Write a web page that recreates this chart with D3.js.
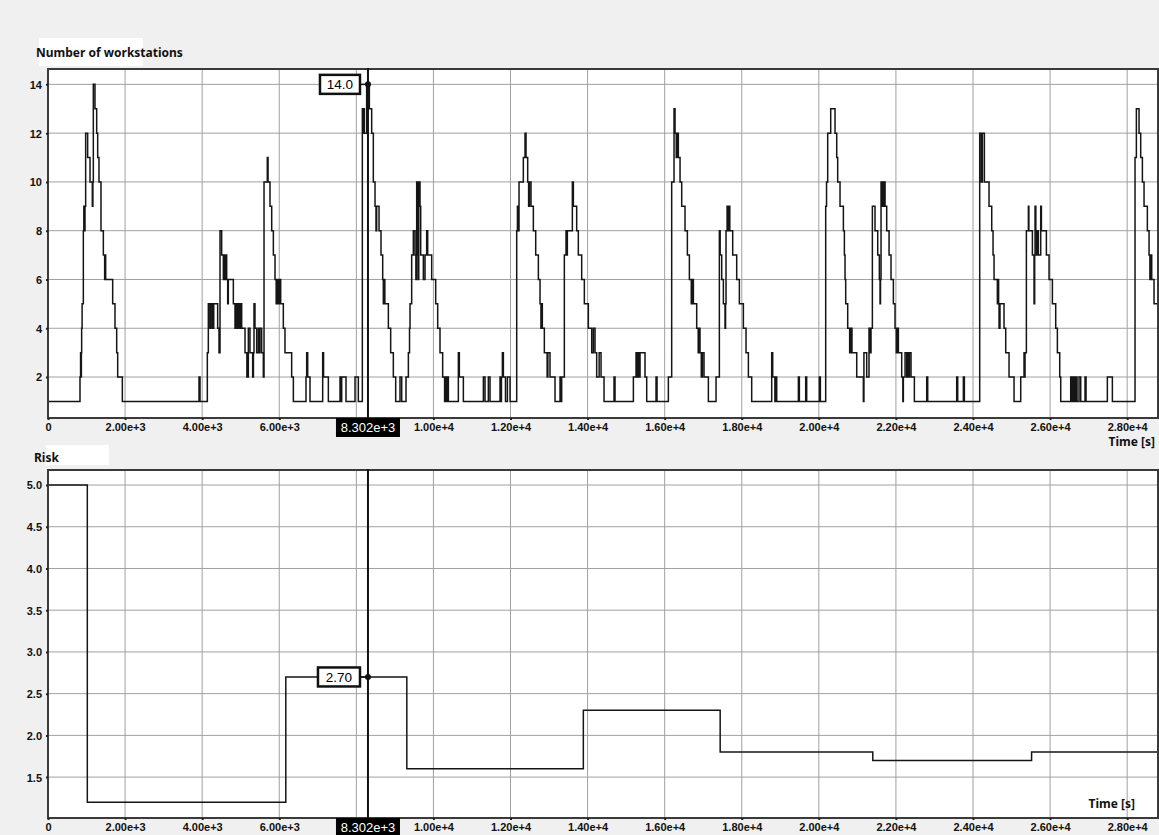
<!DOCTYPE html>
<html>
<head>
<meta charset="utf-8">
<script src="https://cdn.jsdelivr.net/npm/d3@7"></script>
<style>
  body { margin: 0; background: #f0f0f0; }
  svg { display: block; }
  .tick text { font-family: "Liberation Sans", Arial, sans-serif; font-weight: bold; font-size: 11px; fill: #111; }
  .title { font-family: "Noto Sans", "Open Sans", sans-serif; font-weight: bold; font-size: 12px; fill: #111; }
</style>
</head>
<body>
<div id="chart"></div>
<script>
// number of workstations (step after)
const wsTime = [0,830,845,858,866,873,885,917,930,945,960,977,1029,1090,1150,1165,1176,1219,1263,1289,1323,1375,1436,1470,1485,1496,1678,1738,1782,1808,1929,
  3918,3944,4134,4160,4200,4230,4270,4300,4402,4437,4463,4506,4550,4570,4600,4620,4636,4662,4679,4809,4852,4880,4910,4940,4970,5000,5025,
  5112,5160,5198,5241,5310,5330,5345,5370,5414,5458,5480,5500,5544,5587,5605,5690,5710,5760,5804,5847,5890,5920,5950,5980,6000,6037,6106,6149,6322,6366,
  6694,6712,6738,6798,7127,7150,7274,7577,7605,7620,7732,7966,8052,8156,8185,8200,8208,8268,8338,8398,8441,8485,8510,8528,8589,8640,8684,8700,8718,8740,
  8831,8891,8960,9021,9133,9177,9289,9350,9380,9393,9436,9479,9522,9545,9566,9590,9609,9620,9652,9670,9739,9782,9825,9851,9955,10059,10111,10171,10240,
  10290,10310,10340,10360,10388,10647,10673,10777,11296,11339,11425,11469,11728,11750,11765,11789,11815,11870,11920,11988,
  12161,12180,12195,12221,12333,12377,12403,12446,12470,12490,12532,12593,12654,12723,12766,12790,12805,12826,12878,12950,12970,13025,13155,13285,13300,13328,
  13397,13441,13460,13475,13605,13631,13717,13760,13847,13916,14020,14107,14150,14193,14236,14300,14349,14427,14686,14712,
  15188,15257,15290,15310,15340,15361,15490,15534,15776,15802,16096,16182,16243,16269,16300,16320,16355,16399,16442,16528,16589,16641,16690,16710,16745,
  16831,16870,16892,16917,16950,16978,17021,17134,17333,17419,17440,17480,17523,17566,17580,17592,17620,17640,17670,17690,17765,17869,17938,18042,18111,18172,18258,
  18777,18803,18860,18880,18907,19469,19495,19659,19685,20014,20040,20178,20200,20230,20308,20420,20464,20489,20550,20637,20663,20680,20697,20749,20800,20830,20860,
  20983,21155,21170,21242,21302,21330,21354,21389,21458,21528,21570,21588,21600,21614,21650,21680,21718,21761,21822,21873,21934,21977,22010,22030,22064,
  22150,22180,22193,22237,22280,22300,22330,22350,22392,22479,22799,22825,23577,23603,23750,23776,
  24174,24215,24243,24295,24416,24486,24520,24546,24632,24650,24665,24676,24700,24805,24849,24935,25065,25238,25324,25340,25350,
  25385,25437,25450,25541,25584,25600,25610,25630,25650,25670,25696,25757,25775,25904,25973,26060,26146,26189,26250,26276,
  26535,26550,26578,26600,26622,26640,26665,26700,26751,26795,26907,26933,27486,27616,28204,28239,28308,28351,28395,28438,28524,28568,28590,28610,28637,28697,28800];
const wsCount = [1,2,3,2,3,4,5,8,9,8,9,12,11,10,9,10,14,13,12,11,10,8,7,6,7,6,5,4,3,2,1,
  2,1,3,5,4,5,4,5,4,3,8,7,6,7,6,7,6,5,6,5,4,5,4,5,4,5,4,
  3,2,4,3,2,3,5,4,3,4,3,4,3,2,10,11,10,9,8,7,6,5,6,5,6,5,4,3,2,1,
  2,3,2,1,3,2,1,2,1,2,1,2,1,13,12,13,12,14,13,12,10,9,8,9,8,7,6,5,6,5,
  4,3,2,1,2,1,2,3,4,5,7,8,7,6,10,7,6,10,9,7,6,7,8,7,6,5,4,3,2,
  1,2,1,2,1,3,2,1,2,1,2,1,2,1,2,3,2,1,2,1,
  8,9,8,10,11,12,11,10,9,10,9,8,7,6,5,4,5,4,3,2,3,2,1,2,1,2,
  7,8,7,8,10,9,8,7,6,5,4,3,4,3,2,3,2,1,2,1,
  2,3,2,3,2,3,2,1,2,1,2,10,13,12,11,12,11,10,9,8,7,6,5,6,5,
  4,3,4,3,2,3,2,1,2,8,7,6,5,4,5,8,9,8,9,8,7,6,5,4,3,2,1,
  3,2,1,2,1,2,1,2,1,2,1,9,10,12,13,12,11,10,9,8,7,6,5,4,3,4,3,
  2,1,3,2,4,3,4,9,8,7,6,5,6,10,9,10,9,8,7,6,5,4,3,4,3,
  2,1,2,3,2,3,2,3,2,1,2,1,2,1,2,1,
  12,10,12,10,9,8,7,6,5,6,5,4,5,4,3,2,1,2,3,2,3,
  8,9,8,7,5,7,9,8,7,8,7,9,8,7,6,5,4,3,2,1,
  2,1,2,1,2,1,2,1,2,1,2,1,2,1,11,13,12,11,10,9,8,7,6,7,6,5,5];

// risk (step after)
const riskTime = [0, 1020, 6170, 9310, 13890, 17440, 21400, 25520, 28800];
const riskValue = [5.0, 1.2, 2.7, 1.6, 2.3, 1.8, 1.7, 1.8, 1.8];

const xTicks = d3.range(0, 28001, 2000);
const wsTicks = [2, 4, 6, 8, 10, 12, 14];
const riskTicks = [1.5, 2.0, 2.5, 3.0, 3.5, 4.0, 4.5, 5.0];
const cursorTime = 8302;

const W = 1159, H = 835;
const left = 48, right = 1158;

const svg = d3.select("#chart").append("svg")
  .attr("width", W).attr("height", H);

svg.append("rect").attr("width", W).attr("height", H).attr("fill", "#f0f0f0");

const x = d3.scaleLinear().domain([0, 28800]).range([left, right]);
const xFmt = v => v === 0 ? "0" : d3.format(".2e")(v);

function panel(opts) {
  const y = d3.scaleLinear().domain(opts.domain).range([opts.bottom, opts.top]);
  const g = svg.append("g");
  const id = "clip" + opts.name;

  svg.append("clipPath").attr("id", id)
    .append("rect").attr("x", left).attr("y", opts.top).attr("width", right - left).attr("height", opts.bottom - opts.top);

  g.append("rect")
    .attr("x", left).attr("y", opts.top)
    .attr("width", right - left).attr("height", opts.bottom - opts.top)
    .attr("fill", "#fff");

  // grid
  g.append("g").selectAll("line").data(xTicks.filter(d => d > 0)).join("line")
    .attr("x1", d => x(d)).attr("x2", d => x(d))
    .attr("y1", opts.top).attr("y2", opts.bottom)
    .attr("stroke", "#a0a0a0").attr("stroke-width", 1);
  g.append("g").selectAll("line").data(opts.yTicks).join("line")
    .attr("x1", left).attr("x2", right)
    .attr("y1", d => y(d)).attr("y2", d => y(d))
    .attr("stroke", "#a0a0a0").attr("stroke-width", 1);

  // data line
  const line = d3.line()
    .x(d => x(d[0])).y(d => y(d[1]))
    .curve(d3.curveStepAfter);
  g.append("path")
    .datum(d3.zip(opts.t, opts.v))
    .attr("clip-path", `url(#${id})`)
    .attr("d", line)
    .attr("fill", "none")
    .attr("stroke", "#151515")
    .attr("stroke-width", 1.5);

  // frame
  g.append("rect")
    .attr("x", left).attr("y", opts.top)
    .attr("width", right - left).attr("height", opts.bottom - opts.top)
    .attr("fill", "none").attr("stroke", "#3a3a3a").attr("stroke-width", 2);

  // axes; the label under the cursor box is hidden like in the original
  const cx = x(cursorTime);
  const ax = g.append("g")
    .attr("transform", `translate(0,${opts.bottom})`)
    .call(d3.axisBottom(x).tickValues(xTicks).tickFormat(xFmt).tickSize(2).tickPadding(3));
  ax.select(".domain").remove();
  ax.selectAll(".tick line").attr("stroke", "#222").attr("stroke-width", 2);
  ax.selectAll(".tick text").filter(d => Math.abs(x(d) - cx) < 40).remove();

  const ay = g.append("g")
    .attr("transform", `translate(${left},0)`)
    .call(d3.axisLeft(y).tickValues(opts.yTicks).tickFormat(opts.yFmt).tickSize(2).tickPadding(4));
  ay.select(".domain").remove();
  ay.selectAll(".tick line").attr("stroke", "#222").attr("stroke-width", 2);
  ay.selectAll(".tick text").attr("dy", "0.36em");

  // title
  g.append("rect").attr("x", opts.titleBox[0]).attr("y", opts.titleBox[1])
    .attr("width", opts.titleBox[2]).attr("height", opts.titleBox[3]).attr("fill", "#fff");
  g.append("text").attr("class", "title")
    .attr("x", opts.titleX).attr("y", opts.titleY).text(opts.title);

  g.append("text").attr("class", "title")
    .attr("x", opts.timeX).attr("y", opts.timeY)
    .attr("text-anchor", "end").text("Time [s]");

  // cursor
  const i = d3.bisectRight(opts.t, cursorTime) - 1;
  const val = opts.v[i];
  const cy = y(val);
  g.append("line").attr("x1", cx).attr("x2", cx)
    .attr("y1", opts.top - 1).attr("y2", opts.bottom)
    .attr("stroke", "#111").attr("stroke-width", 2);
  g.append("line").attr("x1", cx - 8).attr("x2", cx)
    .attr("y1", cy).attr("y2", cy)
    .attr("stroke", "#111").attr("stroke-width", 1.5);
  g.append("circle").attr("cx", cx).attr("cy", cy).attr("r", 3).attr("fill", "#111");
  g.append("rect")
    .attr("x", cx - 8 - opts.boxW).attr("y", cy - 9.5)
    .attr("width", opts.boxW).attr("height", 19)
    .attr("fill", "#fff").attr("stroke", "#111").attr("stroke-width", 2.5);
  g.append("text")
    .attr("x", cx - 8 - opts.boxW / 2).attr("y", cy + 5)
    .attr("text-anchor", "middle")
    .style("font-family", "Liberation Sans, Arial, sans-serif")
    .style("font-size", "13.5px")
    .text(d3.format(opts.valFmt)(val));

  g.append("rect")
    .attr("x", cx - 32).attr("y", opts.bottom)
    .attr("width", 64).attr("height", 19)
    .attr("fill", "#000");
  g.append("text")
    .attr("x", cx).attr("y", opts.bottom + 14)
    .attr("text-anchor", "middle").attr("fill", "#fff")
    .style("font-family", "Liberation Sans, Arial, sans-serif")
    .style("font-size", "13px")
    .text(d3.format(".3e")(cursorTime));
}

panel({
  name: "ws", top: 69, bottom: 418, domain: [0.32, 14.63],
  t: wsTime, v: wsCount, yTicks: wsTicks, yFmt: d3.format("d"),
  title: "Number of workstations", titleX: 36, titleY: 57, titleBox: [39, 38, 104, 28],
  timeX: 1155, timeY: 446, boxW: 40, valFmt: ".1f"
});

panel({
  name: "risk", top: 470, bottom: 818, domain: [1.01, 5.18],
  t: riskTime, v: riskValue, yTicks: riskTicks, yFmt: d3.format(".1f"),
  title: "Risk", titleX: 34, titleY: 462, titleBox: [46, 445, 63, 20],
  timeX: 1135, timeY: 808, boxW: 42, valFmt: ".2f"
});
</script>
</body>
</html>
